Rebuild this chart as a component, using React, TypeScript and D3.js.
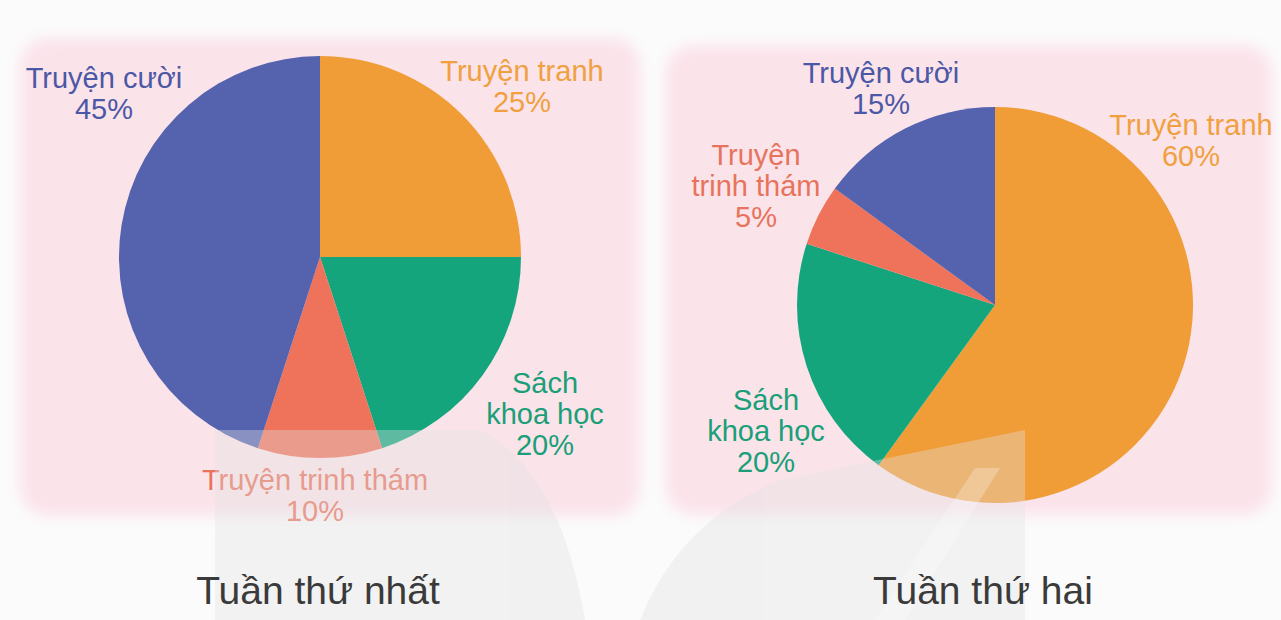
import React from "react";
import * as d3 from "d3";

// categories in drawing order (clockwise from 12 o'clock)
const categories = ["Truyện tranh", "Sách khoa học", "Truyện trinh thám", "Truyện cười"];
const week1Values = [25, 20, 10, 45];
const week2Values = [60, 20, 5, 15];
const titles = ["Tuần thứ nhất", "Tuần thứ hai"];
const colors = ["#f09d38", "#14a57d", "#ee735a", "#5563ae"];
const labelColors = ["#f0a03e", "#1a9f78", "#e8735c", "#4b58a6"];

// label line breaks per chart (text only)
const week1Lines = [["Truyện tranh"], ["Sách", "khoa học"], ["Truyện trinh thám"], ["Truyện cười"]];
const week2Lines = [["Truyện tranh"], ["Sách", "khoa học"], ["Truyện", "trinh thám"], ["Truyện cười"]];

interface PieSpec {
  values: number[];
  lines: string[][];
  cx: number;
  cy: number;
  r: number;
  labelPos: [number, number][];
  title: string;
  titleX: number;
  panel: [number, number, number, number];
}

const specs: PieSpec[] = [
  {
    values: week1Values,
    lines: week1Lines,
    cx: 320, cy: 257, r: 201,
    labelPos: [[522, 73], [545, 385], [315, 482], [104, 80]],
    title: titles[0], titleX: 318,
    panel: [20, 38, 620, 478],
  },
  {
    values: week2Values,
    lines: week2Lines,
    cx: 995, cy: 305, r: 198,
    labelPos: [[1191, 127], [766, 402], [756, 157], [881, 75]],
    title: titles[1], titleX: 983,
    panel: [666, 45, 606, 470],
  },
];

const PieChart = ({ spec }: { spec: PieSpec }) => {
  const pie = d3.pie<number>().sort(null).value((d) => d);
  const arc = d3.arc<d3.PieArcDatum<number>>().innerRadius(0).outerRadius(spec.r);
  const arcs = pie(spec.values);
  const lh = 31;
  return (
    <g>
      <g transform={`translate(${spec.cx},${spec.cy})`}>
        {arcs.map((a, i) => (
          <path key={i} d={arc(a) || ""} fill={colors[i]} />
        ))}
      </g>
      {spec.lines.map((ls, i) => {
        const [x, y] = spec.labelPos[i];
        const all = [...ls, `${spec.values[i]}%`];
        return (
          <text key={i} x={x} textAnchor="middle" fill={labelColors[i]}
            fontSize={29} fontFamily="Liberation Sans, Arial, sans-serif">
            {all.map((t, j) => (
              <tspan key={j} x={x} y={y + j * lh} dominantBaseline="middle">{t}</tspan>
            ))}
          </text>
        );
      })}
    </g>
  );
};

export default function App() {
  return (
    <svg width={1281} height={620} style={{ position: "absolute", left: 0, top: 0 }}
      fontFamily="Liberation Sans, Arial, sans-serif">
      <defs>
        <filter id="blur" x="-10%" y="-10%" width="120%" height="120%">
          <feGaussianBlur stdDeviation="7" />
        </filter>
      </defs>
      <rect width={1281} height={620} fill="#fbfbfb" />
      {specs.map((s, i) => (
        <rect key={i} x={s.panel[0]} y={s.panel[1]} width={s.panel[2]} height={s.panel[3]}
          rx={28} fill="#fbe3ea" filter="url(#blur)" />
      ))}
      {specs.map((s, i) => (
        <PieChart key={i} spec={s} />
      ))}
      {/* faint watermark */}
      <g opacity={0.36}>
        <path d="M215,430 L480,430 Q560,470 585,620 L215,620 Z" fill="#e2e2e2" />
        <path d="M1025,430 L780,480 Q680,520 640,620 L1025,620 Z" fill="#e2e2e2" />
      </g>
      <path d="M975,468 L1000,468 L905,620 L875,620 Z" fill="#ffffff" opacity={0.25} />
      {specs.map((s, i) => (
        <text key={i} x={s.titleX} y={604} textAnchor="middle" fontSize={39} fill="#3a3a3a">
          {s.title}
        </text>
      ))}
    </svg>
  );
}
